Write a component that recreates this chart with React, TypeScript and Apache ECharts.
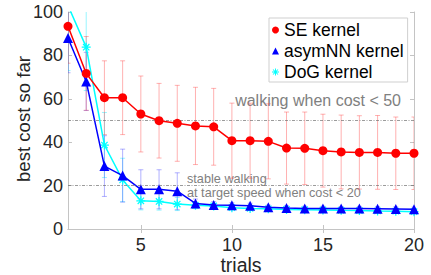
import React, { useEffect, useRef } from "react";
import * as echarts from "echarts";

const trials = [1, 2, 3, 4, 5, 6, 7, 8, 9, 10, 11, 12, 13, 14, 15, 16, 17, 18, 19, 20];
const seMean = [93.4, 71.7, 60.5, 60.5, 53, 49.9, 48.7, 47.5, 47.1, 40.7, 40.7, 40.4, 37.3, 37.2, 36.1, 35.5, 35.3, 35.3, 34.9, 34.9];
const seStd = [17, 17, 17, 17, 17.5, 17.2, 17.5, 17.8, 17.7, 17.3, 17.3, 17.3, 16.6, 16.7, 16.8, 17, 16.9, 17, 16.7, 16.7];
const nnMean = [88, 68, 29, 24.6, 18.3, 18.3, 17.4, 11.8, 11.1, 10.9, 10.7, 10, 9.7, 9.5, 9.5, 9.4, 9.4, 9.3, 9.2, 9.1];
const nnStd = [16, 13.4, 14, 12.2, 9, 9, 8.5, 2, 1.5, 1.2, 1.2, 1, 1, 1, 1, 1, 1, 1, 1, 1];
const dogMean = [103, 83.8, 38.7, 22.6, 13, 12.7, 11.5, 10.9, 10.6, 9.8, 9.5, 9.3, 9.0, 8.9, 8.8, 8.6, 8.5, 8.3, 8.2, 8.0];
const dogStd = [30, 20, 15, 10, 4.2, 4, 3, 1.5, 1.2, 1, 1, 1, 1, 1, 1, 1, 1, 1, 1, 1];
const xTicks = [5, 10, 15, 20];
const thresholds = [50, 20];

const FONT = "Liberation Sans, Arial, Helvetica, sans-serif";
const ASTERISK =
  "path://M-0.7,-5L0.7,-5L0.7,5L-0.7,5Z M-5,-0.7L5,-0.7L5,0.7L-5,0.7Z M-3.04,-4.03L4.03,3.04L3.04,4.03L-4.03,-3.04Z M3.04,-4.03L4.03,-3.04L-3.04,4.03L-4.03,3.04Z";

function pts(mean: number[]) {
  return trials.map((t, i) => [t, mean[i]]);
}
function errs(mean: number[], std: number[]) {
  return trials.map((t, i) => [t, mean[i] - std[i], mean[i] + std[i]]);
}

function errSeries(name: string, mean: number[], std: number[], color: string) {
  return {
    type: "custom",
    name,
    clip: true,
    z: 1,
    silent: true,
    data: errs(mean, std),
    renderItem: (params: any, api: any) => {
      const x = api.value(0);
      const lo = api.coord([x, api.value(1)]);
      const hi = api.coord([x, api.value(2)]);
      const w = 2.5;
      const style = { stroke: color, lineWidth: 1, fill: "none" };
      return {
        type: "group",
        children: [
          { type: "line", shape: { x1: lo[0], y1: lo[1], x2: hi[0], y2: hi[1] }, style },
          { type: "line", shape: { x1: lo[0] - w, y1: lo[1], x2: lo[0] + w, y2: lo[1] }, style },
          { type: "line", shape: { x1: hi[0] - w, y1: hi[1], x2: hi[0] + w, y2: hi[1] }, style },
        ],
      };
    },
  };
}

export default function App() {
  const ref = useRef<HTMLDivElement>(null);
  useEffect(() => {
    if (!ref.current) return;
    const chart = echarts.init(ref.current, null, { renderer: "svg" });
    const axisLine = { show: true, lineStyle: { color: "#c4c4c4", width: 1 } };
    const tick = { show: true, inside: true, length: 4, lineStyle: { color: "#c4c4c4" } };
    chart.setOption({
      animation: false,
      backgroundColor: "#ffffff",
      grid: { left: 68, right: 17, top: 12, bottom: 46 },
      xAxis: [
        {
          type: "value",
          min: 1,
          max: 20,
          axisLine,
          axisTick: { ...tick, customValues: xTicks },
          axisLabel: { customValues: xTicks, color: "#262626", fontSize: 18, fontFamily: FONT, margin: 7 },
          splitLine: { show: false },
        },
        {
          type: "value",
          position: "top",
          min: 1,
          max: 20,
          axisLine,
          axisTick: { ...tick, customValues: xTicks },
          axisLabel: { show: false, customValues: xTicks },
          splitLine: { show: false },
        },
      ],
      yAxis: [
        {
          type: "value",
          min: 0,
          max: 100,
          interval: 20,
          axisLine,
          axisTick: tick,
          axisLabel: { color: "#262626", fontSize: 18, fontFamily: FONT, margin: 5 },
          splitLine: { show: false },
        },
        {
          type: "value",
          position: "right",
          min: 0,
          max: 100,
          interval: 20,
          axisLine,
          axisTick: tick,
          axisLabel: { show: false },
          splitLine: { show: false },
        },
      ],
      legend: {
        orient: "vertical",
        left: 269,
        top: 18,
        padding: [3, 4, 1, 3],
        itemGap: 3,
        itemWidth: 7,
        itemHeight: 7,
        borderColor: "#cfcfcf",
        borderWidth: 1,
        backgroundColor: "#ffffff",
        textStyle: { fontSize: 17.5, color: "#000", fontFamily: FONT, lineHeight: 18 },
        data: [
          { name: "SE kernel", icon: "circle" },
          { name: "asymNN kernel", icon: "triangle" },
          { name: "DoG kernel", icon: ASTERISK },
        ],
      },
      series: [
        errSeries("DoG err", dogMean, dogStd, "rgba(0,230,255,0.4)"),
        errSeries("asymNN err", nnMean, nnStd, "rgba(60,60,255,0.4)"),
        errSeries("SE err", seMean, seStd, "rgba(255,60,60,0.4)"),
        {
          type: "line",
          name: "DoG kernel",
          z: 3,
          data: pts(dogMean),
          color: "#00ffff",
          lineStyle: { color: "#00ffff", width: 1.5 },
          symbol: ASTERISK,
          symbolSize: 9,
          itemStyle: { color: "#00ffff" },
          markLine: {
            silent: true,
            symbol: "none",
            label: { show: false },
            lineStyle: { color: "#707070", width: 0.7, type: [3, 1.5, 1, 1.5] },
            data: thresholds.map((v) => ({ yAxis: v })),
          },
        },
        {
          type: "line",
          name: "asymNN kernel",
          z: 4,
          data: pts(nnMean),
          color: "#0000ff",
          lineStyle: { color: "#0000ff", width: 1.5 },
          symbol: "triangle",
          symbolSize: 10,
          itemStyle: { color: "#0000ff" },
        },
        {
          type: "line",
          name: "SE kernel",
          z: 5,
          data: pts(seMean),
          color: "#ff0000",
          lineStyle: { color: "#ff0000", width: 1.5 },
          symbol: "circle",
          symbolSize: 9,
          itemStyle: { color: "#ff0000" },
        },
      ],
      graphic: [
        {
          type: "text",
          x: 241,
          y: 265,
          style: { text: "trials", fontSize: 19.5, fontFamily: FONT, fill: "#262626", align: "center", verticalAlign: "middle" },
        },
        {
          type: "text",
          x: 23,
          y: 119,
          rotation: Math.PI / 2,
          style: { text: "best cost so far", fontSize: 18.6, fontFamily: FONT, fill: "#262626", align: "center", verticalAlign: "middle" },
        },
        {
          type: "text",
          x: 401,
          y: 100,
          style: { text: "walking when cost < 50", fontSize: 16, fontFamily: FONT, fill: "#808080", align: "right", verticalAlign: "middle" },
        },
        {
          type: "text",
          x: 187,
          y: 179,
          style: { text: "stable walking", fontSize: 12.7, fontFamily: FONT, fill: "#808080", align: "left", verticalAlign: "middle" },
        },
        {
          type: "text",
          x: 187,
          y: 193,
          style: { text: "at target speed when cost < 20", fontSize: 12.7, fontFamily: FONT, fill: "#808080", align: "left", verticalAlign: "middle" },
        },
      ],
    });
    return () => chart.dispose();
  }, []);
  return <div ref={ref} style={{ position: "absolute", left: 0, top: 0, width: 431, height: 275 }} />;
}
